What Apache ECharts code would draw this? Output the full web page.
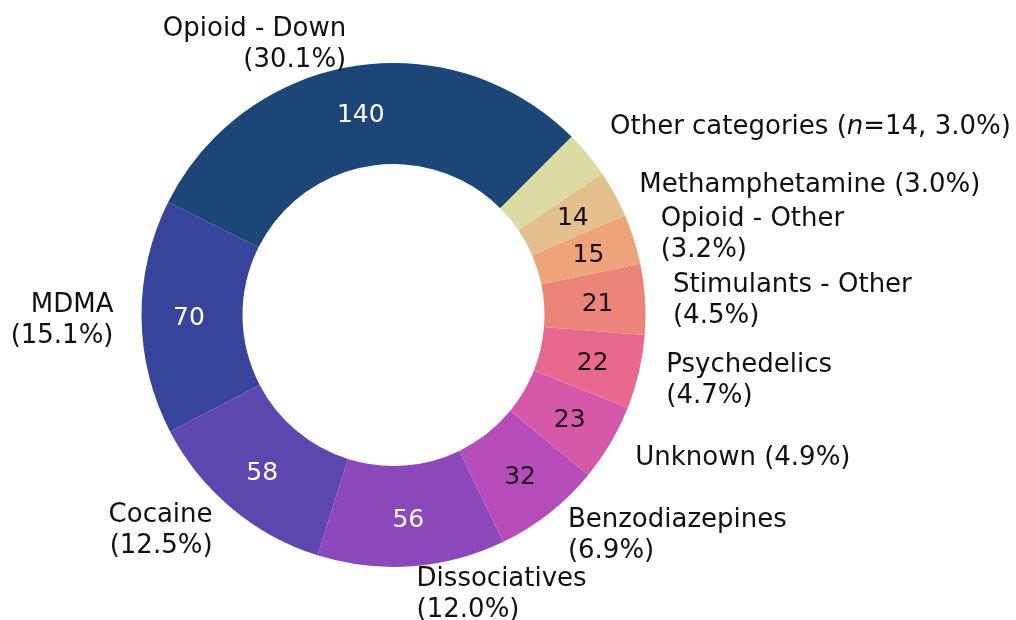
<!DOCTYPE html>
<html>
<head>
<meta charset="utf-8">
<script src="https://cdn.jsdelivr.net/npm/echarts@6/dist/echarts.min.js"></script>
<style>
html,body{margin:0;padding:0;background:#ffffff;}
#chart{width:1016px;height:620px;}
</style>
</head>
<body>
<div id="chart"></div>
<script>
const categories = ['Opioid - Down','MDMA','Cocaine','Dissociatives','Benzodiazepines','Unknown','Psychedelics','Stimulants - Other','Opioid - Other','Methamphetamine','Other categories'];
const counts = [140,70,58,56,32,23,22,21,15,14,14];
const innerLabels = ['140','70','58','56','32','23','22','21','15','14',''];
const wrapLabel = [true,true,true,true,true,false,true,true,true,false,false];
const sliceColors = ['#1b4677','#36459b','#5d46ad','#8b48ba','#b54cb9','#d659a9','#e9698e','#ec8579','#eea47a','#e3c08c','#dcdba3'];
const innerTextColors = ['#ffffff','#ffffff','#ffffff','#ffffff','#1a0a1a','#1a0a1a','#1a0a1a','#1a0a1a','#1a0a1a','#1a0a1a','#1a0a1a'];

const FONT = 'DejaVu Sans';
const total = counts.reduce((a,b)=>a+b,0);
const pct = v => (v/total*100).toFixed(1) + '%';

const chart = echarts.init(document.getElementById('chart'), null, {renderer:'canvas'});

const innerData = categories.map((c,i)=>({
  name:c, value:counts[i],
  itemStyle:{color:sliceColors[i]},
  label:{color:innerTextColors[i]}
}));
const outerData = categories.map((c,i)=>({name:c, value:counts[i]}));

const geometry = {
  type:'pie',
  center:[393.5,315],
  radius:[151,252],
  startAngle:45,
  clockwise:false,
  avoidLabelOverlap:false,
  silent:true,
  animation:false,
  emphasis:{disabled:true}
};

chart.setOption({
  backgroundColor:'#ffffff',
  animation:false,
  series:[
    Object.assign({}, geometry, {
      data:innerData,
      itemStyle:{borderWidth:0},
      label:{
        show:true, position:'inside',
        fontFamily:FONT, fontSize:25,
        formatter:p=>innerLabels[p.dataIndex]
      },
      labelLine:{show:false},
      labelLayout:()=>({dy:2})
    }),
    Object.assign({}, geometry, {
      data:outerData,
      itemStyle:{color:'rgba(0,0,0,0)', borderWidth:0},
      label:{
        show:true, position:'outside',
        fontFamily:FONT, fontSize:26, lineHeight:31, color:'#111111',
        distanceToLabelLine:3,
        formatter:p=>{
          const i = p.dataIndex;
          const name = categories[i];
          const pv = pct(counts[i]);
          if (name === 'Other categories') {
            return '{a|' + name + ' (}{i|n}{a|=' + counts[i] + ', ' + pv + ')}';
          }
          return name + (wrapLabel[i] ? '\n' : ' ') + '(' + pv + ')';
        },
        rich:{
          a:{fontFamily:FONT, fontSize:26, color:'#111111'},
          i:{fontFamily:FONT, fontSize:26, color:'#111111', fontStyle:'italic'}
        }
      },
      labelLine:{show:false, length:25, length2:0},
      labelLayout:p=>{
        if (p.dataIndex === categories.length-1) return {dy:-11};
        return {dy:3};
      }
    })
  ]
});
</script>
</body>
</html>
